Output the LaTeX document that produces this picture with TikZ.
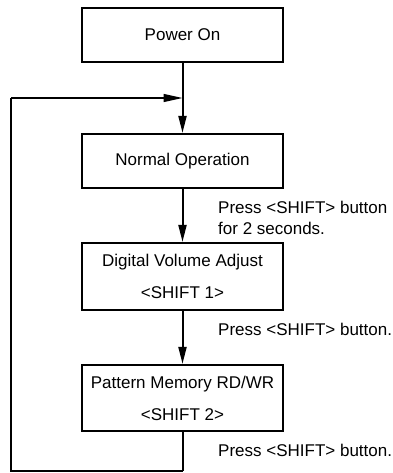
\documentclass[tikz,border=0pt]{standalone}
\usepackage{fontspec}
\setmainfont{Liberation Sans}
\usetikzlibrary{arrows.meta}
\begin{document}
\begin{tikzpicture}[x=1pt,y=-1pt,
  stepbox/.style={draw,line width=2.2pt,minimum width=201pt,inner sep=0pt,
    align=center,font=\fontsize{17}{32}\selectfont},
  flow/.style={line width=2pt,-{Triangle[length=17pt,width=8pt]}},
  back/.style={line width=1.2pt},
  lbl/.style={anchor=west,align=left,inner sep=0pt,font=\fontsize{17}{21}\selectfont}]
\useasboundingbox (0,0) rectangle (392,473);
\node[stepbox,minimum height=54pt] (power) at (182.5,35) {Power On};
\node[stepbox,minimum height=54pt] (normal) at (182.5,161) {Normal Operation};
\node[stepbox,minimum height=67pt] (digital) at (182.5,276.5) {Digital Volume Adjust\\<SHIFT 1>};
\node[stepbox,minimum height=66pt] (pattern) at (182.5,398) {Pattern Memory RD/WR\\<SHIFT 2>};
\coordinate (j) at (182.5,98);
\coordinate (c1) at (182.5,471);
\coordinate (c2) at (11,471);
\coordinate (c3) at (11,98);
\draw[flow] (power.south) -- (normal.north);
\draw[flow] (normal.south) -- (digital.north);
\draw[flow] (digital.south) -- (pattern.north);
\draw[line width=2pt] (pattern.south) -- (c1);
\draw[back] (c1) -- (c2) -- (c3);
\draw[back,-{Triangle[length=19pt,width=8pt]}] (c3) -- (j);
\node[lbl] (l1) at (218,217.5) {Press <SHIFT> button\\for 2 seconds.};
\node[lbl] (l2) at (218,329) {Press <SHIFT> button.};
\node[lbl] (l3) at (218,450) {Press <SHIFT> button.};
\end{tikzpicture}
\end{document}
